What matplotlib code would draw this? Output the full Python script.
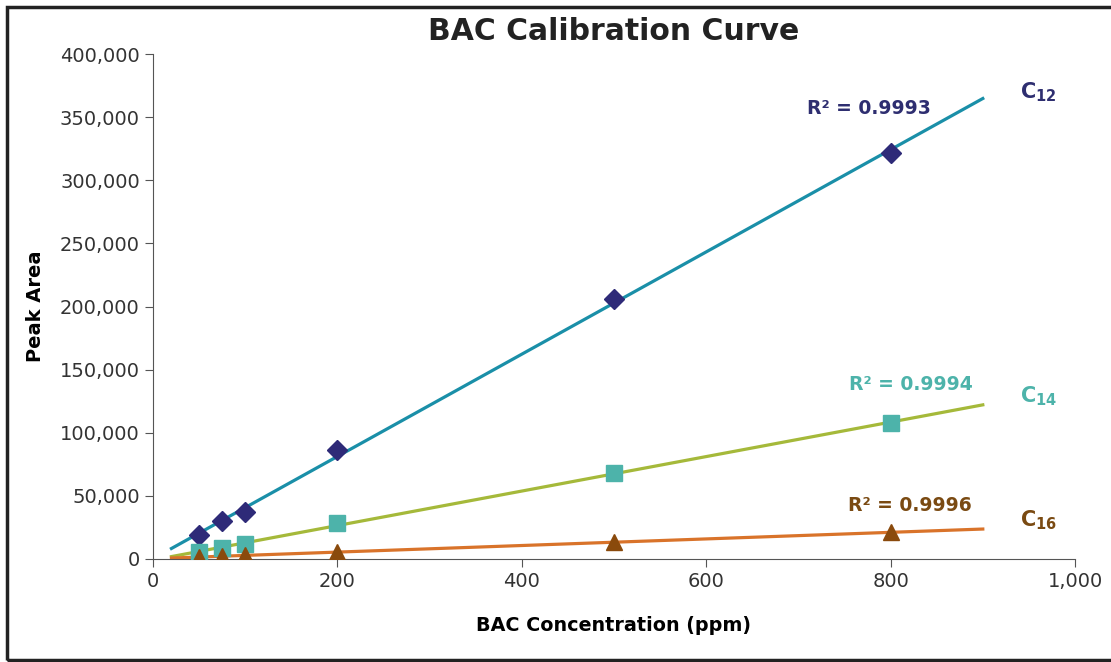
import numpy as np
import matplotlib.pyplot as plt
from matplotlib.patches import Rectangle
from matplotlib.ticker import FuncFormatter

plt.rcParams['mathtext.fontset'] = 'dejavusans'

# concentrations (ppm)
conc = [50, 75, 100, 200, 500, 800]
# peak areas
c12 = [19000, 30000, 37000, 86500, 206000, 321500]
c14 = [5500, 8700, 12000, 28500, 68500, 107500]
c16 = [1500, 2200, 2800, 5500, 13500, 21000]

labels = [r'$\mathbf{C}_{\mathbf{12}}$', r'$\mathbf{C}_{\mathbf{14}}$', r'$\mathbf{C}_{\mathbf{16}}$']
r2_labels = ['R² = 0.9993', 'R² = 0.9994', 'R² = 0.9996']

# marker, marker colour, line colour, text colour, marker size, label offsets
styles = [
    ('D', '#2e2a78', '#1a8fa8', '#2e2e70', 10, 5000, -8000, 777),
    ('s', '#4db3aa', '#a5b93a', '#4db3aa', 11, 6500, 16000, 822),
    ('^', '#8a4a0c', '#d9732a', '#7a4a12', 11, 7000, 19000, 821),
]

fig = plt.figure(figsize=(11.11, 6.62), dpi=100)
ax = fig.add_axes([153 / 1111, 1 - 559 / 662, 922 / 1111, 505 / 662])

# frame around whole picture
fig.patches.append(Rectangle((0.006, 0.003), 1.0, 0.987, transform=fig.transFigure,
                             fill=False, edgecolor='#222222', linewidth=2.5))

xfit = np.array([20, 900])
for y, name, r2, st in zip([c12, c14, c16], labels, r2_labels, styles):
    mk, mcol, lcol, tcol, ms, dy_name, dy_r2, x_r2 = st
    k, b = np.polyfit(conc, y, 1)
    ax.plot(xfit, k * xfit + b, color=lcol, linewidth=2.3, zorder=2)
    ax.plot(conc, y, linestyle='none', marker=mk, color=mcol, markersize=ms, zorder=3)
    yend = k * 900 + b
    ax.text(940, yend + dy_name, name, color=tcol, fontsize=15,
            ha='left', va='center', clip_on=False)
    ax.text(x_r2, yend + dy_r2, r2, color=tcol, fontsize=13.5, fontweight='bold',
            ha='center', va='center')

ax.set_xlim(0, 1000)
ax.set_ylim(0, 400000)
ax.set_xticks([0, 200, 400, 600, 800, 1000])
ax.set_yticks(np.arange(0, 400001, 50000))
fmt = FuncFormatter(lambda v, p: f'{int(v):,}')
ax.xaxis.set_major_formatter(fmt)
ax.yaxis.set_major_formatter(fmt)
ax.tick_params(direction='out', length=6, labelsize=14, colors='#555555', labelcolor='#333333')
for s in ['top', 'right']:
    ax.spines[s].set_visible(False)
for s in ['left', 'bottom']:
    ax.spines[s].set_color('#555555')

ax.set_title('BAC Calibration Curve', fontsize=21.5, fontweight='bold', color='#222222', pad=10)
ax.set_xlabel('BAC Concentration (ppm)', fontsize=13.8, fontweight='bold', labelpad=18)
ax.set_ylabel('Peak Area', fontsize=14, fontweight='bold', labelpad=11)

fig.savefig('out.png', dpi=100)
